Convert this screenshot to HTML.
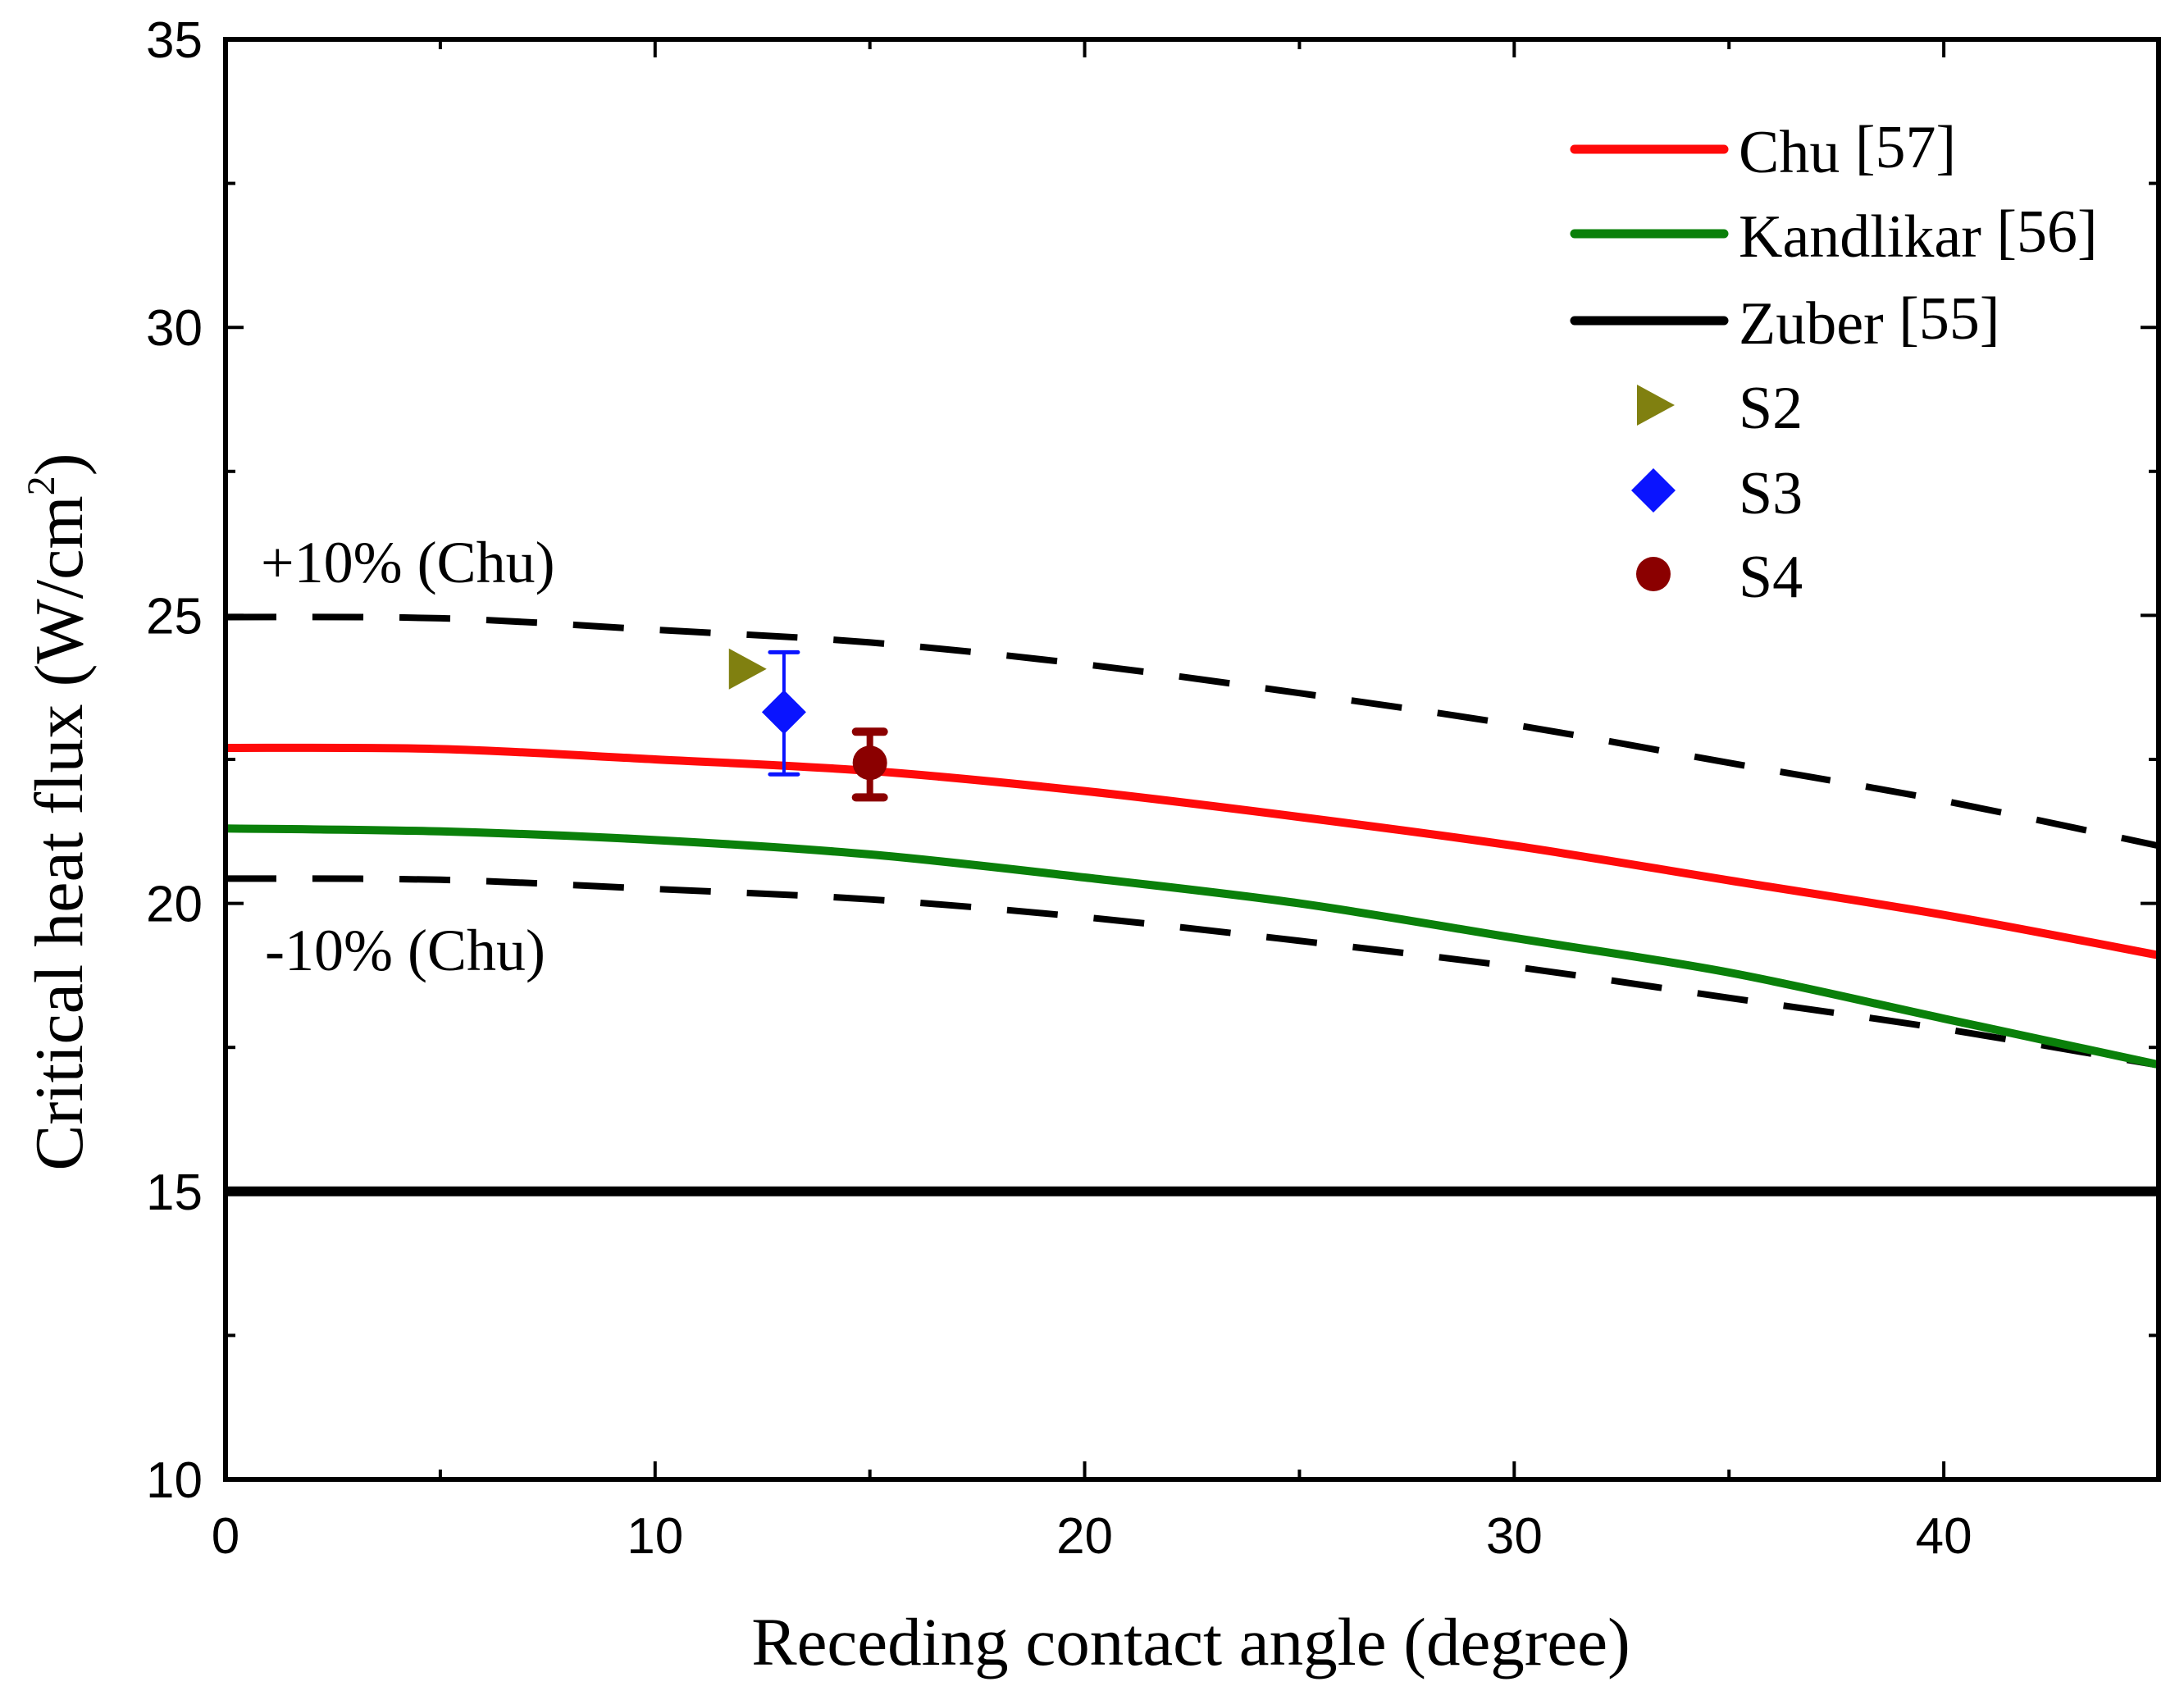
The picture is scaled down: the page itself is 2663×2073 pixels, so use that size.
<!DOCTYPE html>
<html><head><meta charset="utf-8"><style>
html,body{margin:0;padding:0;background:#fff}
svg{display:block}
</style></head><body>
<svg id="chart" width="2663" height="2073" viewBox="0 0 2663 2073" xmlns="http://www.w3.org/2000/svg">
<rect width="2663" height="2073" fill="#fff"/>
<g id="plot"></g>
<g id="axes"></g>
<text transform="translate(100,990) rotate(-90)" text-anchor="middle" font-family="'Liberation Serif',serif" font-size="84">Critical heat flux (W/cm<tspan dy="-34" font-size="48">2</tspan><tspan dy="34">)</tspan></text>
<text x="1452" y="2030" text-anchor="middle" font-family="'Liberation Serif',serif" font-size="83">Receding contact angle (degree)</text>
<text x="318" y="710" font-family="'Liberation Serif',serif" font-size="72">+10% (Chu)</text>
<text x="323" y="1183" font-family="'Liberation Serif',serif" font-size="72">-10% (Chu)</text>
<g id="legend" font-family="'Liberation Serif',serif" font-size="74"></g>
</svg>
<script>
const xs = [0, 5, 10, 15, 20, 25, 30, 35, 40, 45];
const chu = [22.7, 22.68, 22.5, 22.3, 21.95, 21.5, 21.0, 20.4, 19.8, 19.1];
const kandlikar = [21.3, 21.25, 21.1, 20.85, 20.45, 20.0, 19.4, 18.8, 18.0, 17.2];
const chuPlus10 = [24.97, 24.95, 24.75, 24.53, 24.15, 23.65, 23.1, 22.44, 21.78, 21.0];
const chuMinus10 = [20.43, 20.41, 20.25, 20.07, 19.76, 19.35, 18.9, 18.36, 17.82, 17.19];
const zuber = [15, 15];
const zuberX = [0, 45];
const sampleNames = ['S2', 'S3', 'S4'];
const sampleX = [12.1, 13.0, 15.0];
const sampleY = [24.07, 23.32, 22.44];
const sampleErrLow = [null, 22.24, 21.84];
const sampleErrHigh = [null, 24.36, 22.98];
const xTicks = [0, 10, 20, 30, 40];
const yTicks = [10, 15, 20, 25, 30, 35];

const L = 275, R = 2632, T = 48, B = 1804;
const xMin = 0, xMax = 45, yMin = 10, yMax = 35;
const sx = v => L + (v - xMin) / (xMax - xMin) * (R - L);
const sy = v => B - (v - yMin) / (yMax - yMin) * (B - T);
const NS = 'http://www.w3.org/2000/svg';
function mk(tag, attrs, parent) {
  const e = document.createElementNS(NS, tag);
  for (const k in attrs) e.setAttribute(k, attrs[k]);
  parent.appendChild(e);
  return e;
}
const plot = document.getElementById('plot');
const axes = document.getElementById('axes');

function pathFrom(xv, yv) {
  const p = xv.map((x, i) => [sx(x), sy(yv[i])]);
  let d = 'M' + p[0][0] + ',' + p[0][1];
  for (let i = 0; i < p.length - 1; i++) {
    const p0 = p[Math.max(0, i - 1)], p1 = p[i], p2 = p[i + 1], p3 = p[Math.min(p.length - 1, i + 2)];
    const c1 = [p1[0] + (p2[0] - p0[0]) / 6, p1[1] + (p2[1] - p0[1]) / 6];
    const c2 = [p2[0] - (p3[0] - p1[0]) / 6, p2[1] - (p3[1] - p1[1]) / 6];
    d += ' C' + c1 + ' ' + c2 + ' ' + p2;
  }
  return d;
}
let e;
e = mk('path', {d: pathFrom(zuberX, zuber), stroke: '#000', 'stroke-width': 12, fill: 'none'}, plot);


e = mk('path', {d: pathFrom(xs, chuPlus10), stroke: '#000', 'stroke-width': 8, fill: 'none', 'stroke-dasharray': '62 44'}, plot);


e = mk('path', {d: pathFrom(xs, chuMinus10), stroke: '#000', 'stroke-width': 8, fill: 'none', 'stroke-dasharray': '62 44'}, plot);


e = mk('path', {d: pathFrom(xs, kandlikar), stroke: '#0a800a', 'stroke-width': 10, fill: 'none'}, plot);


e = mk('path', {d: pathFrom(xs, chu), stroke: '#ff0a0a', 'stroke-width': 10, fill: 'none'}, plot);



const colors = ['#808010', '#0a14ff', '#8b0000'];
function marker(i, cx, cy, parent) {
  let m;
  if (i === 0) m = mk('polygon', {points: (cx-20)+','+(cy-25)+' '+(cx+26)+','+cy+' '+(cx-20)+','+(cy+25), fill: colors[0]}, parent);
  else if (i === 1) m = mk('polygon', {points: cx+','+(cy-27)+' '+(cx+27)+','+cy+' '+cx+','+(cy+27)+' '+(cx-27)+','+cy, fill: colors[1]}, parent);
  else m = mk('circle', {cx: cx, cy: cy, r: 21, fill: colors[2]}, parent);
  return m;
}
for (let i = 0; i < sampleNames.length; i++) {
  const cx = sx(sampleX[i]), cy = sy(sampleY[i]);
  if (sampleErrLow[i] !== null) {
    const g = mk('g', {stroke: colors[i], 'stroke-width': i === 1 ? 4 : 8, 'stroke-linecap': 'round'}, plot);
    
    
    const y1 = sy(sampleErrHigh[i]), y2 = sy(sampleErrLow[i]);
    mk('line', {x1: cx, x2: cx, y1: y1, y2: y2}, g);
    mk('line', {x1: cx - 17, x2: cx + 17, y1: y1, y2: y1, 'stroke-width': i === 1 ? 5 : 10}, g);
    mk('line', {x1: cx - 17, x2: cx + 17, y1: y2, y2: y2, 'stroke-width': i === 1 ? 5 : 10}, g);
  }
  const m = marker(i, cx, cy, plot);
  
  
}

e = mk('rect', {x: L, y: T, width: R - L, height: B - T, fill: 'none', stroke: '#000', 'stroke-width': 6}, axes);


for (let v = 0; v <= 45; v += 5) {
  const x = sx(v), len = v % 10 === 0 ? 22 : 12;
  mk('line', {x1: x, x2: x, y1: B, y2: B - len, stroke: '#000', 'stroke-width': 4}, axes);
  mk('line', {x1: x, x2: x, y1: T, y2: T + len, stroke: '#000', 'stroke-width': 4}, axes);
}
for (let v = 10; v <= 35; v += 2.5) {
  const y = sy(v), len = v % 5 === 0 ? 22 : 12;
  mk('line', {x1: L, x2: L + len, y1: y, y2: y, stroke: '#000', 'stroke-width': 4}, axes);
  mk('line', {x1: R, x2: R - len, y1: y, y2: y, stroke: '#000', 'stroke-width': 4}, axes);
}
xTicks.forEach(v => {
  const t = mk('text', {x: sx(v), y: B + 90, 'text-anchor': 'middle', 'font-family': "'Liberation Sans',sans-serif", 'font-size': 62}, axes);
  t.textContent = v;
  
  
});
yTicks.forEach(v => {
  const t = mk('text', {x: L - 28, y: sy(v) + 22, 'text-anchor': 'end', 'font-family': "'Liberation Sans',sans-serif", 'font-size': 62}, axes);
  t.textContent = v;
  
  
});

const leg = document.getElementById('legend');
const lineEntries = [['Chu [57]', '#ff0a0a', 182], ['Kandlikar [56]', '#0a800a', 285], ['Zuber [55]', '#000', 391]];
lineEntries.forEach(([lab, col, y]) => {
  const g = mk('g', {}, leg);
  
  
  mk('line', {x1: 1920, x2: 2102, y1: y, y2: y, stroke: col, 'stroke-width': 11, 'stroke-linecap': 'round'}, g);
  const parts = lab.split(' ');
  const t = mk('text', {x: 2120, y: y + 28}, g);
  t.textContent = parts[0] + ' ';
  const ts = mk('tspan', {dy: -6}, t);
  ts.textContent = parts[1];
});
const my = [494, 598, 700];
sampleNames.forEach((n, i) => {
  const g = mk('g', {}, leg);
  
  
  marker(i, 2016, my[i], g);
  const t = mk('text', {x: 2120, y: my[i] + 28}, g);
  t.textContent = n;
});
</script>
</body></html>
